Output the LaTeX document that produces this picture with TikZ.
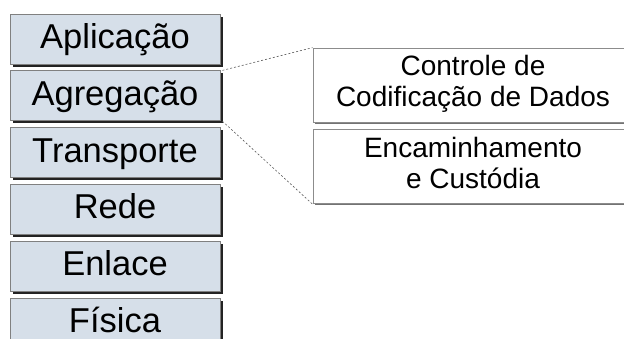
\documentclass[tikz,border=0pt]{standalone}
\usepackage{fontspec}
\setmainfont{Liberation Sans}
\usetikzlibrary{positioning,shadows}
\definecolor{layerfill}{RGB}{214,223,233}
\definecolor{layerline}{RGB}{128,128,128}
\definecolor{shadowcol}{RGB}{35,35,35}
\definecolor{subline}{RGB}{140,140,140}

\tikzset{
  layer/.style={draw=layerline,fill=layerfill,line width=0.8pt,
    minimum width=210pt,minimum height=50pt,inner sep=0pt,
    text height=25pt,text depth=6pt,
    font=\fontsize{34.5}{38}\selectfont,
    drop shadow={shadow xshift=2.5pt,shadow yshift=-2.5pt,fill=shadowcol,opacity=1}},
  sublayer/.style={draw=subline,fill=white,line width=0.8pt,
    minimum width=320pt,minimum height=74pt,inner sep=0pt,align=center,
    text depth=8pt,
    font=\fontsize{28}{31}\selectfont,
    drop shadow={shadow xshift=1.5pt,shadow yshift=-1.5pt,fill=black!55,opacity=1}},
  zoomline/.style={draw=black!65,line width=0.6pt,dash pattern=on 2pt off 2pt}
}

\begin{document}
\begin{tikzpicture}[x=1pt,y=-1pt]
  \useasboundingbox (0,0) rectangle (624,338);
  \clip (0,0) rectangle (624,338);
  % pilha de camadas
  \node[layer] (apl) at (115,39) {Aplicação};
  \node[layer,below=6pt of apl] (agr) {Agregação};
  \node[layer,below=6pt of agr] (tra) {Transporte};
  \node[layer,below=6pt of tra] (red) {Rede};
  \node[layer,below=6pt of red] (enl) {Enlace};
  \node[layer,below=6pt of enl] (fis) {Física};
  % detalhe da camada de agregacao
  \node[sublayer] (ctl) at (473,85) {Controle de\\Codificação de Dados};
  \node[sublayer,below=7pt of ctl] (enc) {Encaminhamento\\e Custódia};
  \draw[zoomline] ([xshift=2pt]agr.north east) -- (ctl.north west);
  \draw[zoomline] ([xshift=2pt]agr.south east) -- (enc.south west);
\end{tikzpicture}
\end{document}
